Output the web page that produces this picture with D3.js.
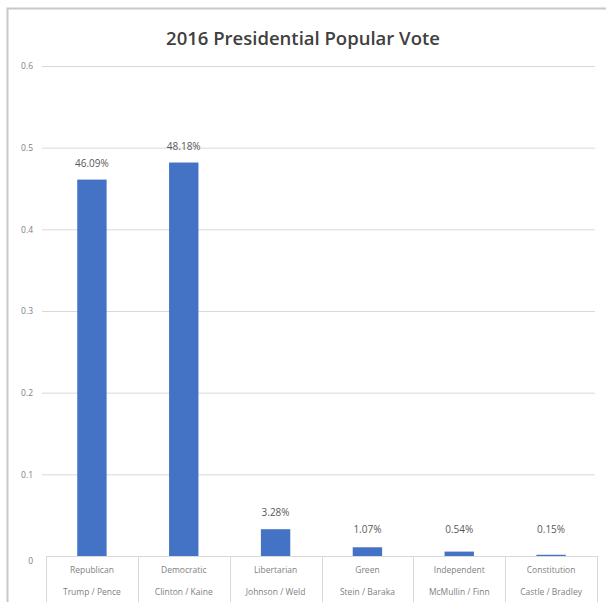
<!DOCTYPE html>
<html>
<head>
<meta charset="utf-8">
<script src="https://cdn.jsdelivr.net/npm/d3@7"></script>
<style>
  body { margin: 0; background: #fff; }
  svg { display: block; }
</style>
</head>
<body>
<div id="chart"></div>
<script>
// party / ticket / share of the popular vote
var parties = ["Republican", "Democratic", "Libertarian", "Green", "Independent", "Constitution"];
var tickets = ["Trump / Pence", "Clinton / Kaine", "Johnson / Weld", "Stein / Baraka", "McMullin / Finn", "Castle / Bradley"];
var shares = [0.4609, 0.4818, 0.0328, 0.0107, 0.0054, 0.0015];
var yTicks = [0, 0.1, 0.2, 0.3, 0.4, 0.5, 0.6];

var width = 606,
    height = 602;

var margin = {top: 66, left: 46, right: 9, bottom: 46};

var svg = d3.select("#chart").append("svg")
    .attr("width", width)
    .attr("height", height);

// frame of the chart area (cropped screenshot)
svg.append("path")
    .attr("d", "M7.5," + height + "V8.5H" + width)
    .attr("fill", "none")
    .attr("stroke", "#c8c8c8")
    .attr("stroke-width", 2);

svg.append("text")
    .attr("x", 303)
    .attr("y", 45)
    .attr("text-anchor", "middle")
    .style("font-family", "'Open Sans', sans-serif")
    .style("font-weight", 600)
    .style("font-size", "18.5px")
    .style("fill", "#404040")
    .text("2016 Presidential Popular Vote");

var x = d3.scaleBand()
    .domain(parties)
    .range([margin.left, width - margin.right])
    .paddingInner(0.68)
    .paddingOuter(0.34);

var y = d3.scaleLinear()
    .domain([0, 0.6])
    .range([height - margin.bottom, margin.top]);

// gridlines + tick labels
var yAxis = d3.axisLeft(y)
    .tickValues(yTicks)
    .tickFormat(function(d) { return d === 0 ? "0" : d3.format(".1f")(d); })
    .tickSize(-(width - margin.right - 42 - 2))
    .tickPadding(9);

var gy = svg.append("g")
    .attr("transform", "translate(42,0)")
    .call(yAxis);
gy.select(".domain").remove();
gy.selectAll(".tick line")
    .attr("stroke", "#d9d9d9")
    .attr("stroke-opacity", function(d) { return d === 0 ? 0 : 1; });
gy.selectAll(".tick text")
    .style("font-family", "'Open Sans', sans-serif")
    .style("font-size", "8.5px")
    .style("fill", "#7f7f7f")
    .attr("dy", function(d) { return d === 0 ? "0.9em" : "0.32em"; });

// bars
svg.selectAll(".bar")
    .data(shares)
  .enter().append("rect")
    .attr("class", "bar")
    .attr("x", function(d, i) { return x(parties[i]); })
    .attr("width", x.bandwidth())
    .attr("y", function(d) { return y(d); })
    .attr("height", function(d) { return y(0) - y(d); })
    .attr("fill", "#4472c4");

// data labels
svg.selectAll(".lbl")
    .data(shares)
  .enter().append("text")
    .attr("class", "lbl")
    .attr("x", function(d, i) { return x(parties[i]) + x.bandwidth() / 2; })
    .attr("y", function(d) { return Math.min(y(d), y(0) - 10) - 13; })
    .attr("text-anchor", "middle")
    .style("font-family", "'Open Sans', sans-serif")
    .style("font-size", "10px")
    .style("fill", "#595959")
    .text(function(d) { return d3.format(".2%")(d); });

// category table under the axis
var step = x.step(),
    x0 = margin.left,
    y0 = y(0);

svg.append("line")
    .attr("x1", x0).attr("x2", width - margin.right)
    .attr("y1", y0 + 0.5).attr("y2", y0 + 0.5)
    .attr("stroke", "#d9d9d9");

svg.selectAll(".sep")
    .data(d3.range(parties.length + 1))
  .enter().append("line")
    .attr("class", "sep")
    .attr("x1", function(i) { return Math.round(x0 + i * step) + 0.5; })
    .attr("x2", function(i) { return Math.round(x0 + i * step) + 0.5; })
    .attr("y1", y0)
    .attr("y2", height)
    .attr("stroke", "#d9d9d9");

var cat = svg.selectAll(".cat")
    .data(parties)
  .enter().append("g")
    .attr("class", "cat")
    .attr("transform", function(d) { return "translate(" + (x(d) + x.bandwidth() / 2) + "," + y0 + ")"; });

cat.append("text")
    .attr("y", 17)
    .attr("text-anchor", "middle")
    .style("font-family", "'Open Sans', sans-serif")
    .style("font-size", "8.5px")
    .style("fill", "#7f7f7f")
    .text(function(d) { return d; });

cat.append("text")
    .attr("y", 39)
    .attr("text-anchor", "middle")
    .style("font-family", "'Open Sans', sans-serif")
    .style("font-size", "8.5px")
    .style("fill", "#7f7f7f")
    .text(function(d, i) { return tickets[i]; });
</script>
</body>
</html>
